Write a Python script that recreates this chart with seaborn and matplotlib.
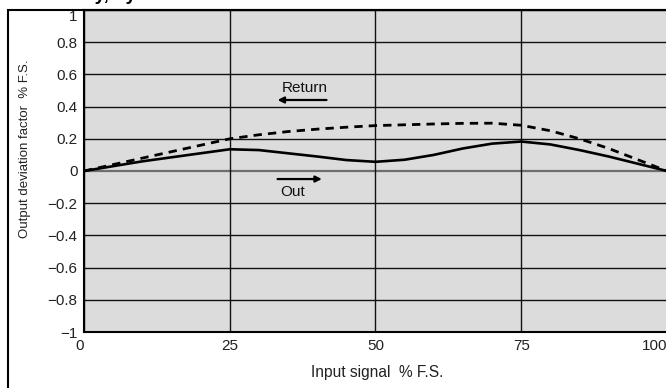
import matplotlib
matplotlib.use("Agg")
import matplotlib.pyplot as plt
from matplotlib.patches import Rectangle
import seaborn as sns
import pandas as pd

# ---- data ----
input_signal = [0, 5, 10, 15, 20, 25, 30, 35, 40, 45, 50, 55, 60, 65, 70, 75, 80, 85, 90, 95, 100]
out_values = [0, 0.03, 0.06, 0.085, 0.11, 0.135, 0.13, 0.11, 0.09, 0.068, 0.057, 0.07, 0.10, 0.14,
              0.17, 0.183, 0.165, 0.13, 0.09, 0.045, 0]
return_values = [0, 0.04, 0.08, 0.12, 0.16, 0.20, 0.225, 0.245, 0.26, 0.272, 0.282, 0.287, 0.292,
                 0.296, 0.297, 0.284, 0.25, 0.20, 0.14, 0.07, 0]
x_ticks = [0, 25, 50, 75, 100]
x_tick_labels = ["0", "25", "50", "75", "100"]
y_ticks = [1, 0.8, 0.6, 0.4, 0.2, 0, -0.2, -0.4, -0.6, -0.8, -1]
y_tick_labels = ["1", "0.8", "0.6", "0.4", "0.2", "0", "\u22120.2", "\u22120.4", "\u22120.6",
                 "\u22120.8", "\u22121"]
title_text = "Linearity, hysteresis"
x_label = "Input signal  % F.S."
y_label = "Output deviation factor  % F.S."

sns.set_theme(style="white")
plt.rcParams["font.family"] = ["Liberation Sans", "DejaVu Sans"]

W, H = 666, 388
fig = plt.figure(figsize=(W / 100, H / 100), dpi=100)
ax = fig.add_axes([84 / W, 1 - 332 / H, (667 - 84) / W, (332 - 10) / H])
ax.set_facecolor("#dcdcdc")

df_out = pd.DataFrame({"x": input_signal, "y": out_values})
df_ret = pd.DataFrame({"x": input_signal, "y": return_values})

# grid lines
for yv in y_ticks:
    if yv == 0:
        ax.axhline(yv, color="#6e6e6e", lw=1.6, zorder=1)
    else:
        ax.axhline(yv, color="#111111", lw=1.0, zorder=1)
for xv in x_ticks:
    ax.axvline(xv, color="#111111", lw=1.0, zorder=1)

sns.lineplot(data=df_ret, x="x", y="y", ax=ax, color="black", lw=2.0, zorder=3)
ax.lines[-1].set_dashes([3.0, 2.2])
sns.lineplot(data=df_out, x="x", y="y", ax=ax, color="black", lw=1.9, zorder=3)

ax.set_xlim(0, 100)
ax.set_ylim(-1, 1)
ax.set_xticks(x_ticks)
ax.set_xticklabels(x_tick_labels, fontsize=11, color="#222222")
ax.set_yticks(y_ticks)
ax.set_yticklabels(y_tick_labels, fontsize=11, color="#222222")
ax.tick_params(axis="both", length=0)
ax.tick_params(axis="y", pad=4.5)
ax.tick_params(axis="x", pad=5)
lbls = ax.get_yticklabels()
lbls[0].set_va("top")
xl = ax.get_xticklabels()
xl[-1].set_ha("right")
xl[0].set_ha("right")
ax.set_xlabel("")
ax.set_ylabel("")

for s in ["left", "bottom", "top"]:
    ax.spines[s].set_color("black")
    ax.spines[s].set_linewidth(1.5)
ax.spines["right"].set_visible(False)

# annotations
ax.text(34.0, 0.515, "Return", fontsize=11, ha="left", va="center", color="#111111")
ax.annotate("", xy=(33.2, 0.441), xytext=(41.6, 0.441),
            arrowprops=dict(arrowstyle="-|>", lw=1.6, color="black", mutation_scale=9,
                            shrinkA=0, shrinkB=0))
ax.text(33.6, -0.13, "Out", fontsize=11, ha="left", va="center", color="#111111")
ax.annotate("", xy=(40.8, -0.05), xytext=(33.2, -0.05),
            arrowprops=dict(arrowstyle="-|>", lw=1.6, color="black", mutation_scale=9,
                            shrinkA=0, shrinkB=0))

fig.text(377 / W, 1 - 373 / H, x_label, fontsize=11.2, ha="center", va="center", color="#222222")
fig.text(25 / W, 1 - 149 / H, y_label, fontsize=9.5, ha="center", va="center",
         rotation=90, color="#222222")

# outer frame
fig.add_artist(Rectangle((8 / W, -0.1), 1.2, (1 - 10 / H) + 0.1, transform=fig.transFigure,
                         fill=False, lw=1.5, edgecolor="black"))
# title, mostly above the visible area (cut off as in the reference)
fig.text(27 / W, 1 - 0.3 / H, title_text, fontsize=13.5, fontweight="bold", ha="left",
         va="baseline", color="black")

fig.savefig("out.png", dpi=100)
